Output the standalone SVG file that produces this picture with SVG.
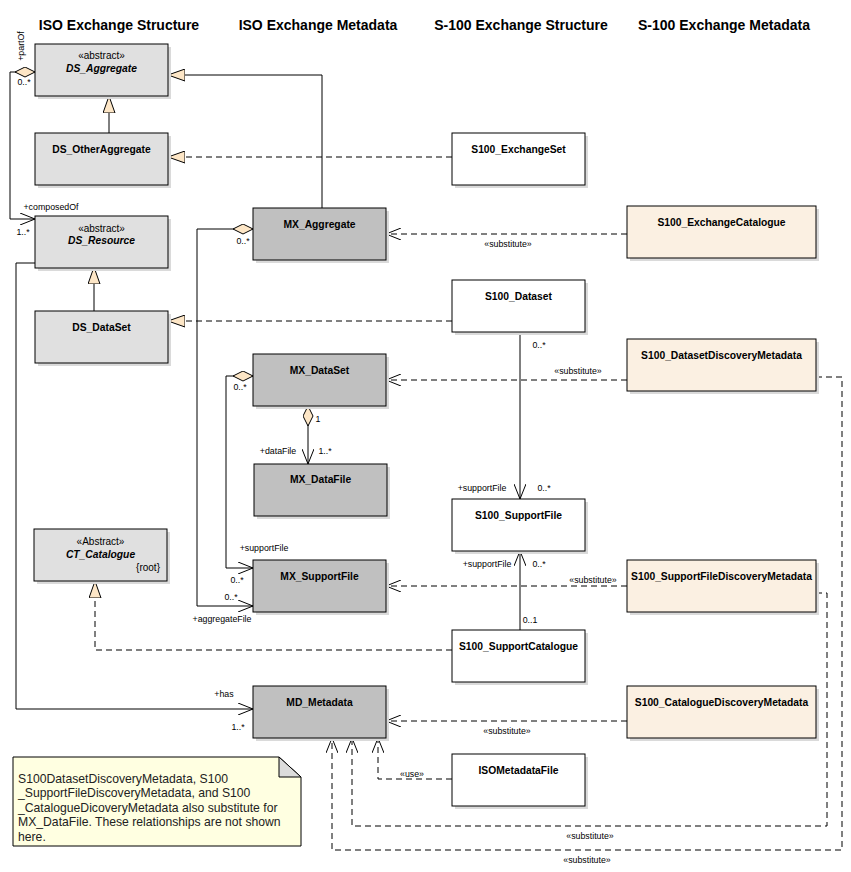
<svg xmlns="http://www.w3.org/2000/svg" width="851" height="872" viewBox="0 0 851 872">
<style>
.bg{fill:#ffffff}
.box{stroke:#000;stroke-width:1}
.shadow{fill:#dadada}
.ds{fill:#e0e0e0}
.mx{fill:#c0c0c0}
.wh{fill:#ffffff}
.bei{fill:#fbf0e2}
.hdr{font-family:"Liberation Sans",Arial,sans-serif;font-weight:bold;font-size:14px;text-anchor:middle;fill:#000}
.name{font-family:"Liberation Sans",Arial,sans-serif;font-weight:bold;font-size:10.3px;text-anchor:middle;fill:#000}
.it{font-style:italic}
.st{font-family:"Liberation Sans",Arial,sans-serif;font-size:10px;text-anchor:middle;fill:#000}
.lbl{font-family:"Liberation Sans",Arial,sans-serif;font-size:8.8px;text-anchor:middle;fill:#000}
.note{font-family:"Liberation Sans",Arial,sans-serif;font-size:12.2px;fill:#222}
.ln{fill:none;stroke:#000;stroke-width:1}
.dash{stroke-dasharray:6,4}
</style>
<defs>
<marker id="open" viewBox="0 0 15 12" refX="15" refY="6" markerWidth="15" markerHeight="12" orient="auto" markerUnits="userSpaceOnUse"><path d="M0,0 L15,6 L0,12" fill="none" stroke="#000" stroke-width="1"/></marker>
<marker id="tri" viewBox="0 0 17 13" refX="17" refY="6.5" markerWidth="17" markerHeight="13" orient="auto" markerUnits="userSpaceOnUse"><path d="M0,0.5 L17,6.5 L0,12.5 Z" fill="#fde6c6" stroke="#000" stroke-width="1"/></marker>
<marker id="dia" viewBox="0 0 20 11" refX="0" refY="5.5" markerWidth="20" markerHeight="11" orient="auto" markerUnits="userSpaceOnUse"><path d="M0,5.5 L10,0.5 L20,5.5 L10,10.5 Z" fill="#fde6c6" stroke="#000" stroke-width="1"/></marker>
</defs>
<rect class="bg" x="0" y="0" width="851" height="872"/>

<g id="headers">
<text class="hdr" x="119" y="30">ISO Exchange Structure</text>
<text class="hdr" x="318" y="30">ISO Exchange Metadata</text>
<text class="hdr" x="521" y="30">S-100 Exchange Structure</text>
<text class="hdr" x="724" y="30">S-100 Exchange Metadata</text>
</g>

<g id="connectors">
<path class="ln" d="M109,133 L109,96" marker-end="url(#tri)"/>
<path class="ln" d="M94,311 L94,267" marker-end="url(#tri)"/>
<path class="ln" d="M322,208 L322,75 L168,75" marker-end="url(#tri)"/>
<path class="ln dash" d="M452,157 L168,157" marker-end="url(#tri)"/>
<path class="ln dash" d="M452,321 L168,321" marker-end="url(#tri)"/>
<path class="ln dash" d="M452,650 L95,650 L95,581" marker-end="url(#tri)"/>
<path class="ln" d="M35,72 L10,72 L10,219 L35,219" marker-start="url(#dia)" marker-end="url(#open)"/>
<path class="ln" d="M35,263 L16,263 L16,709 L253,709" marker-end="url(#open)"/>
<path class="ln" d="M253,229 L197,229 L197,606 L253,606" marker-start="url(#dia)" marker-end="url(#open)"/>
<path class="ln" d="M253,376 L226,376 L226,568 L253,568" marker-start="url(#dia)" marker-end="url(#open)"/>
<path class="ln" d="M308,406 L308,464" marker-start="url(#dia)" marker-end="url(#open)"/>
<path class="ln dash" d="M627,234 L386,234" marker-end="url(#open)"/>
<path class="ln dash" d="M627,380 L386,380" marker-end="url(#open)"/>
<path class="ln" d="M520,332 L520,499" marker-end="url(#open)"/>
<path class="ln" d="M520,630 L520,551" marker-end="url(#open)"/>
<path class="ln dash" d="M627,586 L386,586" marker-end="url(#open)"/>
<path class="ln dash" d="M627,721 L386,721" marker-end="url(#open)"/>
<path class="ln dash" d="M452,779 L378,779 L378,738" marker-end="url(#open)"/>
<path class="ln dash" d="M816,593 L827,593 L827,826 L352,826 L352,738" marker-end="url(#open)"/>
<path class="ln dash" d="M816,377 L842,377 L842,850 L332,850 L332,738" marker-end="url(#open)"/>

<text class="lbl" transform="translate(24,46) rotate(-90)">+partOf</text>
<text class="lbl" x="24" y="85">0..*</text>
<text class="lbl" x="51" y="210">+composedOf</text>
<text class="lbl" x="23" y="235">1..*</text>
<text class="lbl" x="243" y="244">0..*</text>
<text class="lbl" x="240" y="390">0..*</text>
<text class="lbl" x="318" y="422">1</text>
<text class="lbl" x="278" y="454">+dataFile</text>
<text class="lbl" x="325" y="454">1..*</text>
<text class="lbl" x="264" y="551">+supportFile</text>
<text class="lbl" x="237" y="583">0..*</text>
<text class="lbl" x="231" y="600">0..*</text>
<text class="lbl" x="222" y="622">+aggregateFile</text>
<text class="lbl" x="508" y="247">«substitute»</text>
<text class="lbl" x="539" y="348">0..*</text>
<text class="lbl" x="578" y="374">«substitute»</text>
<text class="lbl" x="482" y="491">+supportFile</text>
<text class="lbl" x="544" y="491">0..*</text>
<text class="lbl" x="487" y="567">+supportFile</text>
<text class="lbl" x="539" y="567">0..*</text>
<text class="lbl" x="593" y="583">«substitute»</text>
<text class="lbl" x="530" y="623">0..1</text>
<text class="lbl" x="224" y="697">+has</text>
<text class="lbl" x="238" y="730">1..*</text>
<text class="lbl" x="507" y="734">«substitute»</text>
<text class="lbl" x="412" y="777">«use»</text>
<text class="lbl" x="590" y="839">«substitute»</text>
<text class="lbl" x="587" y="863">«substitute»</text>
</g>

<g id="DS_Aggregate">
<rect class="shadow" x="38" y="47" width="133" height="52"/>
<rect class="box ds" x="35" y="44" width="133" height="52"/>
<text class="st" x="101.5" y="59">«abstract»</text>
<text class="name it" x="101.5" y="72">DS_Aggregate</text>
</g>
<g id="DS_OtherAggregate">
<rect class="shadow" x="38" y="136" width="133" height="52"/>
<rect class="box ds" x="35" y="133" width="133" height="52"/>
<text class="name" x="101.5" y="152.5">DS_OtherAggregate</text>
</g>
<g id="DS_Resource">
<rect class="shadow" x="38" y="219" width="133" height="52"/>
<rect class="box ds" x="35" y="216" width="133" height="52"/>
<text class="st" x="101.5" y="232">«abstract»</text>
<text class="name it" x="101.5" y="244">DS_Resource</text>
</g>
<g id="DS_DataSet">
<rect class="shadow" x="38" y="314" width="133" height="52"/>
<rect class="box ds" x="35" y="311" width="133" height="52"/>
<text class="name" x="101.5" y="330.5">DS_DataSet</text>
</g>
<g id="CT_Catalogue">
<rect class="shadow" x="37" y="532" width="133" height="52"/>
<rect class="box ds" x="34" y="529" width="133" height="52"/>
<text class="st" x="100.5" y="545">«Abstract»</text>
<text class="name it" x="100.5" y="557.5">CT_Catalogue</text>
<text class="st" x="160" y="571" style="text-anchor:end">{root}</text>
</g>

<g id="MX_Aggregate">
<rect class="shadow" x="256" y="211" width="133" height="52"/>
<rect class="box mx" x="253" y="208" width="133" height="52"/>
<text class="name" x="319.5" y="227.5">MX_Aggregate</text>
</g>
<g id="MX_DataSet">
<rect class="shadow" x="256" y="357" width="133" height="52"/>
<rect class="box mx" x="253" y="354" width="133" height="52"/>
<text class="name" x="319.5" y="373.5">MX_DataSet</text>
</g>
<g id="MX_DataFile">
<rect class="shadow" x="257" y="467" width="133" height="52"/>
<rect class="box mx" x="254" y="464" width="133" height="52"/>
<text class="name" x="320.5" y="483">MX_DataFile</text>
</g>
<g id="MX_SupportFile">
<rect class="shadow" x="256" y="563" width="133" height="52"/>
<rect class="box mx" x="253" y="560" width="133" height="52"/>
<text class="name" x="319.5" y="579.5">MX_SupportFile</text>
</g>
<g id="MD_Metadata">
<rect class="shadow" x="256" y="689" width="133" height="52"/>
<rect class="box mx" x="253" y="686" width="133" height="52"/>
<text class="name" x="319.5" y="705.5">MD_Metadata</text>
</g>

<g id="S100_ExchangeSet">
<rect class="shadow" x="455" y="136" width="133" height="52"/>
<rect class="box wh" x="452" y="133" width="133" height="52"/>
<text class="name" x="518.5" y="152.5">S100_ExchangeSet</text>
</g>
<g id="S100_Dataset">
<rect class="shadow" x="455" y="283" width="133" height="52"/>
<rect class="box wh" x="452" y="280" width="133" height="52"/>
<text class="name" x="518.5" y="299.5">S100_Dataset</text>
</g>
<g id="S100_SupportFile">
<rect class="shadow" x="455" y="502" width="133" height="52"/>
<rect class="box wh" x="452" y="499" width="133" height="52"/>
<text class="name" x="518.5" y="518.5">S100_SupportFile</text>
</g>
<g id="S100_SupportCatalogue">
<rect class="shadow" x="455" y="633" width="133" height="52"/>
<rect class="box wh" x="452" y="630" width="133" height="52"/>
<text class="name" x="518.5" y="649.5">S100_SupportCatalogue</text>
</g>
<g id="ISOMetadataFile">
<rect class="shadow" x="455" y="757" width="133" height="52"/>
<rect class="box wh" x="452" y="754" width="133" height="52"/>
<text class="name" x="518.5" y="774">ISOMetadataFile</text>
</g>

<g id="S100_ExchangeCatalogue">
<rect class="shadow" x="630" y="209" width="189" height="52"/>
<rect class="box bei" x="627" y="206" width="189" height="52"/>
<text class="name" x="721.5" y="225.5">S100_ExchangeCatalogue</text>
</g>
<g id="S100_DatasetDiscoveryMetadata">
<rect class="shadow" x="630" y="342" width="189" height="52"/>
<rect class="box bei" x="627" y="339" width="189" height="52"/>
<text class="name" x="721.5" y="358.5">S100_DatasetDiscoveryMetadata</text>
</g>
<g id="S100_SupportFileDiscoveryMetadata">
<rect class="shadow" x="630" y="563" width="189" height="52"/>
<rect class="box bei" x="627" y="560" width="189" height="52"/>
<text class="name" x="721.5" y="580">S100_SupportFileDiscoveryMetadata</text>
</g>
<g id="S100_CatalogueDiscoveryMetadata">
<rect class="shadow" x="630" y="689" width="189" height="52"/>
<rect class="box bei" x="627" y="686" width="189" height="52"/>
<text class="name" x="721.5" y="705.5">S100_CatalogueDiscoveryMetadata</text>
</g>

<g id="note">
<path d="M13,757 L279,757 L301,777 L301,846 L13,846 Z" fill="#ffffe1" stroke="#000" stroke-width="1"/>
<path d="M279,757 L279,777 L301,777 Z" fill="#dcdcdc" stroke="#000" stroke-width="1"/>
<text class="note" x="18" y="783">S100DatasetDiscoveryMetadata, S100</text>
<text class="note" x="18" y="797">_SupportFileDiscoveryMetadata, and S100</text>
<text class="note" x="18" y="811.5">_CatalogueDicoveryMetadata also substitute for</text>
<text class="note" x="18" y="826">MX_DataFile. These relationships are not shown</text>
<text class="note" x="18" y="840.5">here.</text>
</g>
</svg>
